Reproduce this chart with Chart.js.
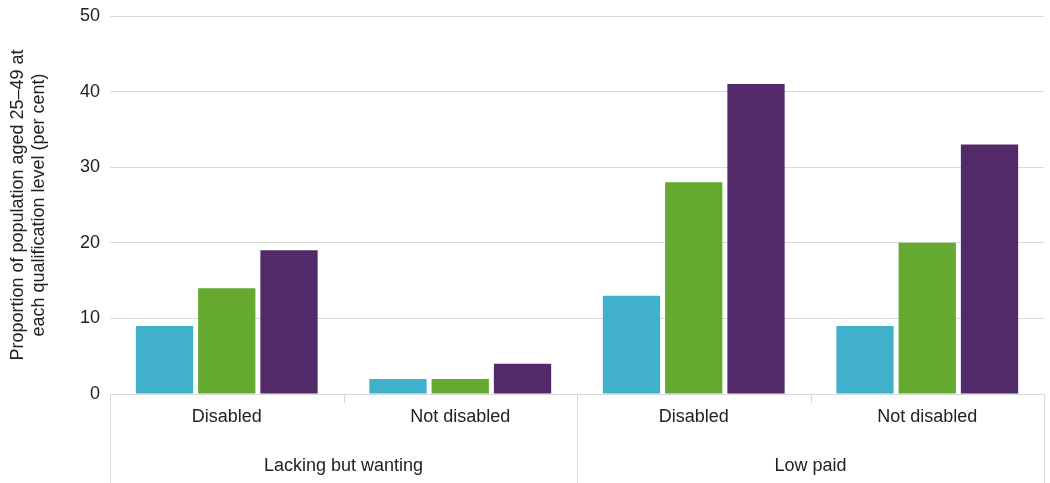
<!DOCTYPE html>
<html>
<head>
<meta charset="utf-8">
<script src="https://cdn.jsdelivr.net/npm/chart.js@4.4.1/dist/chart.umd.min.js"></script>
<style>
  body { margin: 0; background: #fff; }
  #wrap { width: 1050px; height: 483px; }
</style>
</head>
<body>
<div id="wrap"><canvas id="chart" width="1050" height="483"></canvas></div>
<script>
// Data
const groups = ["Lacking but wanting", "Low paid"];
const categories = ["Disabled", "Not disabled", "Disabled", "Not disabled"];
const yTicks = [0, 10, 20, 30, 40, 50];

const seriesNames = ["Qualification level A", "Qualification level B", "Qualification level C"];
const seriesA = [9, 2, 13, 9];
const seriesB = [14, 2, 28, 20];
const seriesC = [19, 4, 41, 33];
const seriesColors = ["#41b0ca", "#65a930", "#522a6a"];

const gridColor = "#d9d9d9";
const textColor = "#222222";
const font = { family: "'Liberation Sans', Arial, sans-serif", size: 18 };

// draws the category separators below the plot (short inner ticks, full-height group lines)
const separators = {
  id: "separators",
  afterDraw(chart) {
    const x = chart.scales.x;
    const ctx = chart.ctx;
    const n = categories.length;
    const perGroup = n / groups.length;
    const w = x.getPixelForValue(1) - x.getPixelForValue(0);
    const top = chart.chartArea.bottom;
    ctx.save();
    ctx.strokeStyle = gridColor;
    ctx.lineWidth = 1;
    for (let k = 0; k <= n; k++) {
      const px = Math.round(x.getPixelForValue(k) - w / 2) + 0.5;
      const bottom = (k % perGroup === 0) ? chart.height : top + 9;
      ctx.beginPath();
      ctx.moveTo(px, top);
      ctx.lineTo(px, bottom);
      ctx.stroke();
    }
    ctx.restore();
  }
};

document.addEventListener("DOMContentLoaded", () => {
  new Chart(document.getElementById("chart"), {
    type: "bar",
    data: {
      labels: categories,
      datasets: [
        { label: seriesNames[0], data: seriesA, backgroundColor: seriesColors[0] },
        { label: seriesNames[1], data: seriesB, backgroundColor: seriesColors[1] },
        { label: seriesNames[2], data: seriesC, backgroundColor: seriesColors[2] }
      ]
    },
    options: {
      responsive: false,
      animation: false,
      categoryPercentage: 0.8,
      barPercentage: 0.92,
      layout: { padding: { top: 16, right: 6, bottom: 0, left: 7 } },
      plugins: {
        legend: { display: false },
        tooltip: { enabled: false }
      },
      scales: {
        x: {
          grid: { display: false, drawTicks: false },
          border: { display: false },
          ticks: { color: textColor, font: font, padding: 12, maxRotation: 0 },
          afterFit(scale) {
            scale.height = 45.6;
          }
        },
        x2: {
          type: "category",
          labels: groups,
          position: "bottom",
          offset: true,
          grid: { display: false, drawTicks: false },
          border: { display: false },
          ticks: { color: textColor, font: font, padding: 15.6, maxRotation: 0 },
          afterFit(scale) {
            scale.height = 43.4;
          }
        },
        y: {
          min: yTicks[0],
          max: yTicks[yTicks.length - 1],
          afterBuildTicks(scale) {
            scale.ticks = yTicks.map(v => ({ value: v }));
          },
          afterFit(scale) {
            scale.width = 103;
            scale.paddingTop = 0;
            scale.paddingBottom = 0;
          },
          grid: { color: gridColor, drawTicks: false },
          border: { display: false },
          ticks: { color: textColor, font: font, padding: 10 },
          title: {
            display: true,
            text: ["Proportion of population aged 25\u201349 at", "each qualification level (per cent)"],
            color: textColor,
            font: font,
            padding: 0
          }
        }
      }
    },
    plugins: [separators]
  });
});
</script>
</body>
</html>
